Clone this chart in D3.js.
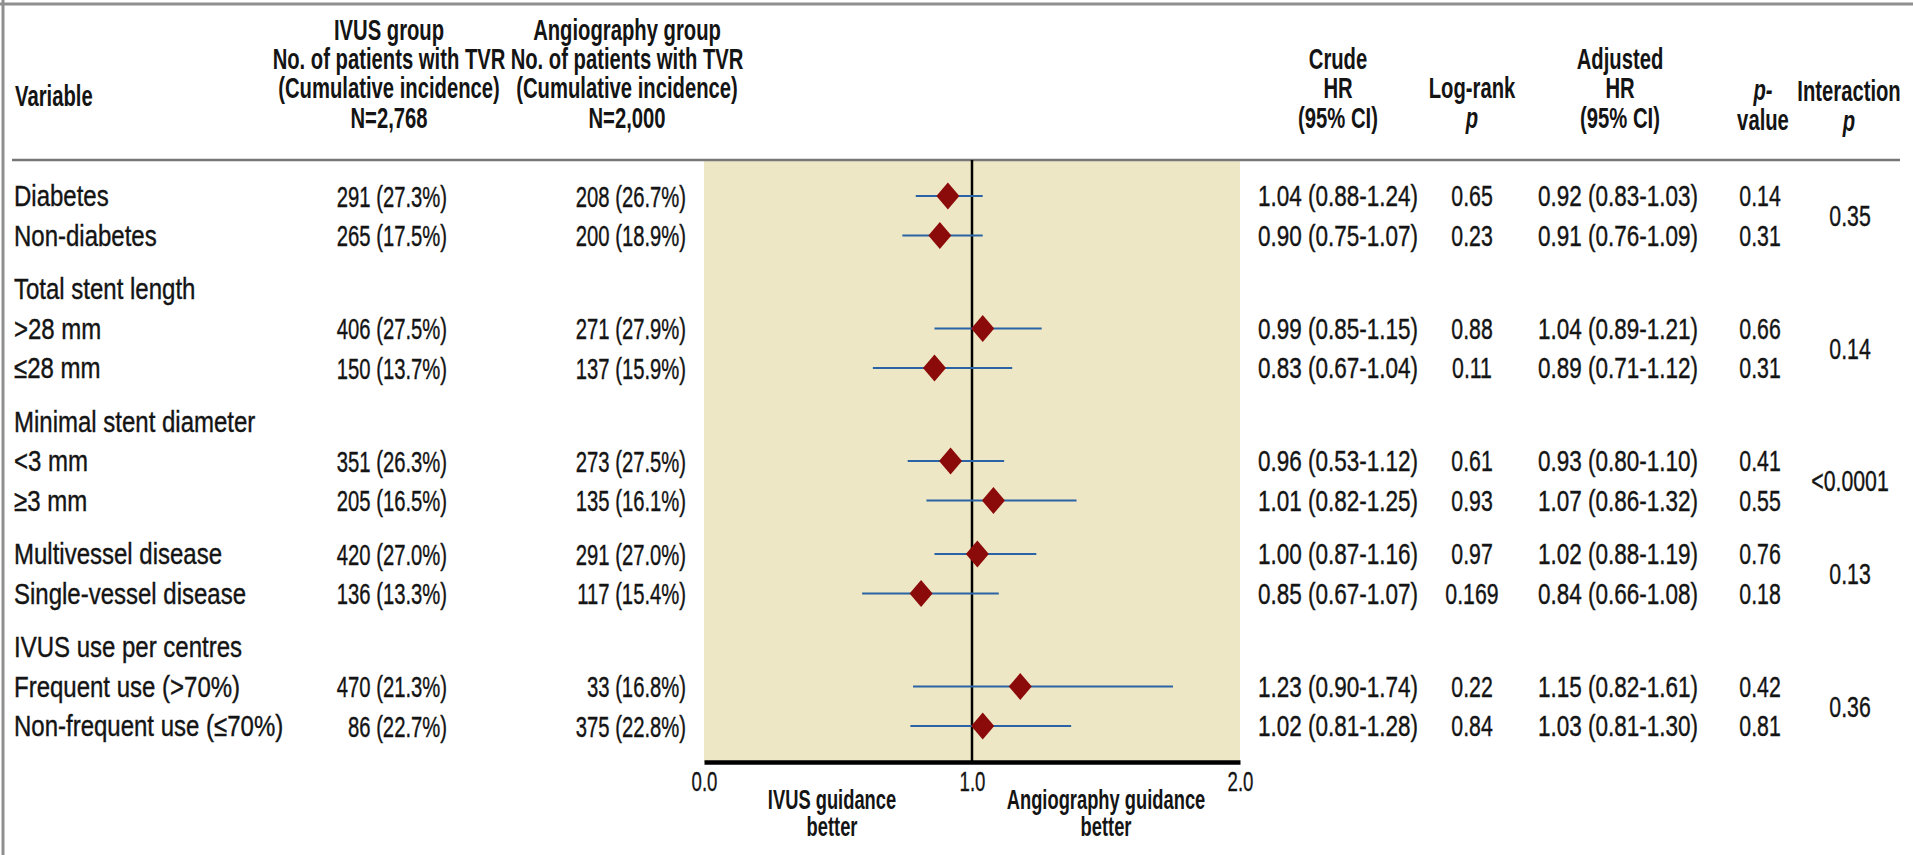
<!DOCTYPE html>
<html><head><meta charset="utf-8">
<script src="https://cdn.jsdelivr.net/npm/d3@7"></script>
<style>body{margin:0;background:#fff}svg{display:block}</style>
</head><body>
<svg id="chart" width="1913" height="855"></svg>
<script>
// ---------- data ----------
const variables = ["Diabetes","Non-diabetes","Total stent length",">28 mm","≤28 mm","Minimal stent diameter","<3 mm","≥3 mm","Multivessel disease","Single-vessel disease","IVUS use per centres","Frequent use (>70%)","Non-frequent use (≤70%)"];
const groupOf = [0,0,1,1,1,2,2,2,3,3,4,4,4];
const ivusN   = [291,265,null,406,150,null,351,205,420,136,null,470,86];
const ivusPct = [27.3,17.5,null,27.5,13.7,null,26.3,16.5,27.0,13.3,null,21.3,22.7];
const angioN   = [208,200,null,271,137,null,273,135,291,117,null,33,375];
const angioPct = [26.7,18.9,null,27.9,15.9,null,27.5,16.1,27.0,15.4,null,16.8,22.8];
const crudeHR = [1.04,0.90,null,0.99,0.83,null,0.96,1.01,1.00,0.85,null,1.23,1.02];
const crudeLo = [0.88,0.75,null,0.85,0.67,null,0.53,0.82,0.87,0.67,null,0.90,0.81];
const crudeHi = [1.24,1.07,null,1.15,1.04,null,1.12,1.25,1.16,1.07,null,1.74,1.28];
const logRankP = ["0.65","0.23","","0.88","0.11","","0.61","0.93","0.97","0.169","","0.22","0.84"];
const adjHR = [0.92,0.91,null,1.04,0.89,null,0.93,1.07,1.02,0.84,null,1.15,1.03];
const adjLo = [0.83,0.76,null,0.89,0.71,null,0.80,0.86,0.88,0.66,null,0.82,0.81];
const adjHi = [1.03,1.09,null,1.21,1.12,null,1.10,1.32,1.19,1.08,null,1.61,1.30];
const pValue = ["0.14","0.31","","0.66","0.31","","0.41","0.55","0.76","0.18","","0.42","0.81"];
const interactionP = ["0.35","0.14","<0.0001","0.13","0.36"];
const interactionRows = [[0,1],[3,4],[6,7],[8,9],[11,12]];
// hazard ratios as drawn in the forest plot
const plotHR = [0.91,0.88,null,1.04,0.86,null,0.92,1.08,1.02,0.81,null,1.18,1.04];
const plotLo = [0.79,0.74,null,0.86,0.63,null,0.76,0.83,0.86,0.59,null,0.78,0.77];
const plotHi = [1.04,1.04,null,1.26,1.15,null,1.12,1.39,1.24,1.10,null,1.75,1.37];
const axisTicks = [0,1,2];
const axisLeftLabel = ["IVUS guidance","better"];
const axisRightLabel = ["Angiography guidance","better"];

// ---------- layout ----------
const W = 1913, H = 855;
const FONT = "'Liberation Sans Narrow','Arial Narrow','Liberation Sans',Arial,sans-serif";
const svg = d3.select("#chart");
svg.append("rect").attr("width",W).attr("height",H).attr("fill","#fff");

const headerLineY = 160, axisY = 762;
const x = d3.scaleLinear().domain([0,2]).range([704,1240]);
const rowY = i => 196 + i*39.5 + groupOf[i]*14;

const ink = "#141414";
function txt(g, s, px, py, opts={}) {
  const sx = opts.sx || 0.72;
  const t = g.append("text").attr("x",0).attr("y",0)
    .attr("transform",`translate(${px},${py}) scale(${sx},1)`)
    .attr("font-family",FONT).attr("font-size",opts.size||30)
    .attr("font-weight",opts.bold?"bold":"normal")
    .attr("font-style",opts.italic?"italic":"normal")
    .attr("text-anchor",opts.anchor||"start")
    .attr("dominant-baseline","central")
    .attr("fill",ink).text(s);
  if (!opts.bold) t.attr("stroke",ink).attr("stroke-width",0.4);
  return t;
}

// frame
svg.append("line").attr("x1",0).attr("x2",W).attr("y1",4).attr("y2",4).attr("stroke","#8f8f8f").attr("stroke-width",3);
svg.append("line").attr("x1",3).attr("x2",3).attr("y1",0).attr("y2",H).attr("stroke","#8f8f8f").attr("stroke-width",3);

// plot background
svg.append("rect").attr("x",x(0)).attr("y",headerLineY).attr("width",x(2)-x(0)).attr("height",axisY-headerLineY).attr("fill","#eee7c5");
// header rule
svg.append("line").attr("x1",12).attr("x2",1900).attr("y1",headerLineY).attr("y2",headerLineY).attr("stroke","#777").attr("stroke-width",2.5);

// headers
const hg = svg.append("g");
const hb = {bold:true,size:30,anchor:"middle",sx:0.675};
const L = [29,58,87,117];
txt(hg,"Variable",15,95,{bold:true,size:30,sx:0.675});
["IVUS group","No. of patients with TVR","(Cumulative incidence)","N=2,768"].forEach((s,k)=>txt(hg,s,389,L[k],hb));
["Angiography group","No. of patients with TVR","(Cumulative incidence)","N=2,000"].forEach((s,k)=>txt(hg,s,627,L[k],hb));
["Crude","HR","(95% CI)"].forEach((s,k)=>txt(hg,s,1338,L[k+1],hb));
txt(hg,"Log-rank",1472,L[2],hb); txt(hg,"p",1472,L[3],{...hb,italic:true});
["Adjusted","HR","(95% CI)"].forEach((s,k)=>txt(hg,s,1620,L[k+1],hb));
txt(hg,"p-",1763,L[2]+2,{...hb,italic:true}); txt(hg,"value",1763,L[3]+2,hb);
txt(hg,"Interaction",1849,L[2]+3,hb); txt(hg,"p",1849,L[3]+3,{...hb,italic:true});

// rows
const f2 = d3.format(".2f"), f1 = d3.format(".1f");
const rg = svg.append("g");
variables.forEach((v,i)=>{
  const y = rowY(i);
  txt(rg,v,14,y,{sx:0.80});
  if (ivusN[i]!==null) txt(rg,`${ivusN[i]} (${f1(ivusPct[i])}%)`,447,y,{anchor:"end",sx:0.675});
  if (angioN[i]!==null) txt(rg,`${angioN[i]} (${f1(angioPct[i])}%)`,686,y,{anchor:"end",sx:0.675});
  if (crudeHR[i]!==null) txt(rg,`${f2(crudeHR[i])} (${f2(crudeLo[i])}-${f2(crudeHi[i])})`,1258,y,{sx:0.75});
  if (logRankP[i]) txt(rg,logRankP[i],1472,y,{anchor:"middle",sx:0.71});
  if (adjHR[i]!==null) txt(rg,`${f2(adjHR[i])} (${f2(adjLo[i])}-${f2(adjHi[i])})`,1538,y,{sx:0.75});
  if (pValue[i]) txt(rg,pValue[i],1760,y,{anchor:"middle",sx:0.71});
});
interactionRows.forEach((pr,k)=>{
  txt(rg,interactionP[k],1850,(rowY(pr[0])+rowY(pr[1]))/2,{anchor:"middle",sx:0.71});
});

// reference line
svg.append("line").attr("x1",x(1)).attr("x2",x(1)).attr("y1",headerLineY).attr("y2",axisY).attr("stroke","#000").attr("stroke-width",2.5);

// CI lines and diamonds
const fg = svg.append("g");
plotHR.forEach((hr,i)=>{
  if (hr===null) return;
  const y = rowY(i);
  fg.append("line").attr("x1",x(plotLo[i])).attr("x2",x(plotHi[i])).attr("y1",y).attr("y2",y)
    .attr("stroke","#2a64a6").attr("stroke-width",2);
  const cx = x(hr), hw=11.5, hh=13.5;
  fg.append("path").attr("d",`M${cx},${y-hh}L${cx+hw},${y}L${cx},${y+hh}L${cx-hw},${y}Z`).attr("fill","#8b0a0a");
});

// axis
const axis = d3.axisBottom(x).tickValues(axisTicks).tickFormat(d3.format(".1f")).tickSize(0).tickPadding(10);
const ag = svg.append("g").attr("transform",`translate(0,${axisY})`).call(axis);
ag.select(".domain").attr("stroke","#000").attr("stroke-width",4.5);
ag.selectAll(".tick text").attr("font-family",FONT).attr("font-size",27).attr("fill",ink)
  .attr("stroke",ink).attr("stroke-width",0.3)
  .attr("transform","scale(0.69,1)");

const ab = {bold:true,size:28,anchor:"middle",sx:0.655};
axisLeftLabel.forEach((s,k)=>txt(svg,s,832,800+k*27,ab));
axisRightLabel.forEach((s,k)=>txt(svg,s,1106,800+k*27,ab));
</script>
</body></html>
